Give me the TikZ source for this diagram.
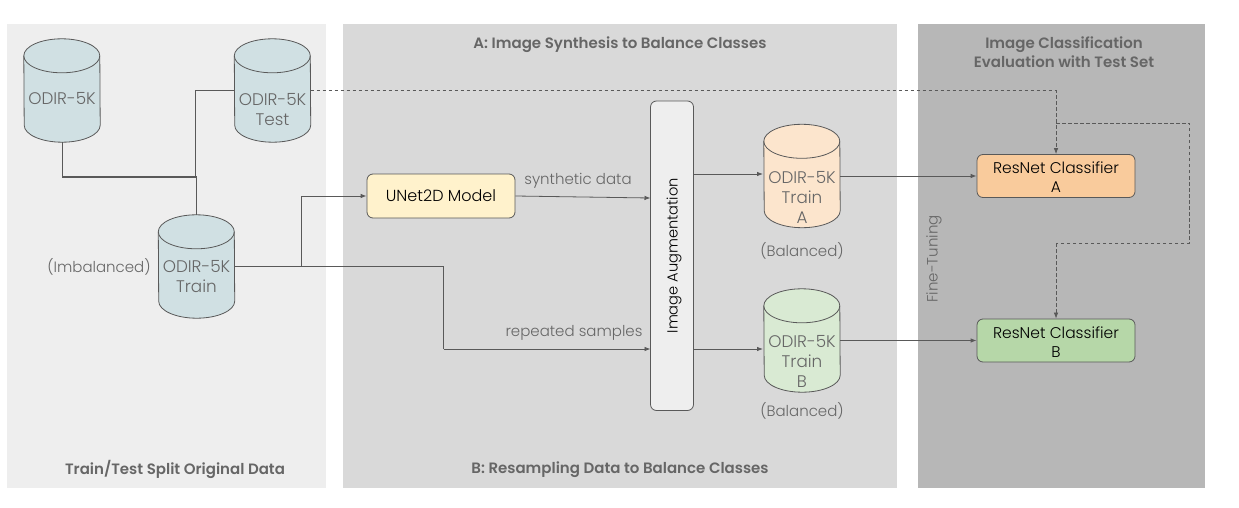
\documentclass[tikz,border=0pt]{standalone}
\usepackage{fontspec}
\setmainfont{Poppins Light}[BoldFont={Poppins SemiBold}]
\usetikzlibrary{arrows.meta}
\definecolor{ink}{HTML}{666666}
\definecolor{wire}{HTML}{595959}
\definecolor{pone}{HTML}{EEEEEE}
\definecolor{ptwo}{HTML}{D9D9D9}
\definecolor{pthree}{HTML}{B7B7B7}
\definecolor{dbblue}{HTML}{D0E0E3}
\definecolor{dborange}{HTML}{FCE5CD}
\definecolor{dbgreen}{HTML}{D9EAD3}
\definecolor{unetc}{HTML}{FFF2CC}
\definecolor{resa}{HTML}{F9CB9C}
\definecolor{resb}{HTML}{B6D7A8}
\newcommand{\dbcyl}[2]{%
 \path[draw=wire,line width=0.8pt,fill=#2]
   ([yshift=-17pt]#1.north west) arc[start angle=180,end angle=0,x radius=38pt,y radius=17pt]
   -- ([yshift=17pt]#1.south east) arc[start angle=0,end angle=-180,x radius=38pt,y radius=17pt]
   -- cycle;
 \path[draw=wire,line width=0.8pt]
   ([yshift=-17pt]#1.north west) arc[start angle=180,end angle=360,x radius=38pt,y radius=17pt];
}
\tikzset{
 x=1pt,y=1pt,
 panel/.style={fill=#1,draw=none,inner sep=0pt,anchor=south west},
 title/.style={font=\fontsize{15}{19}\selectfont\bfseries,text=ink,align=center,inner sep=0pt},
 lbl/.style={font=\fontsize{15}{20}\selectfont,text=ink,align=center,inner sep=0pt},
 dbl/.style={font=\fontsize{16.8}{20}\selectfont,text=ink,align=center,inner sep=0pt},
 db/.style={shape=rectangle,minimum width=76pt,minimum height=103pt,inner sep=0pt},
 box/.style={draw=wire,line width=0.8pt,rounded corners=6pt,fill=#1,inner sep=0pt,align=center,
   font=\fontsize{15.5}{19}\selectfont},
 wirel/.style={draw=wire,line width=0.8pt},
 arr/.style={wirel,-{Latex[length=6pt,width=4.5pt]}},
 dashline/.style={draw=wire,line width=0.7pt,dash pattern=on 3.5pt off 2.5pt},
 darr/.style={dashline,-{Latex[length=6pt,width=4.5pt]}},
}
\begin{document}
\begin{tikzpicture}
\useasboundingbox (0,0) rectangle (1239,507);
\node[panel=white,minimum width=1239pt,minimum height=507pt] (bg) at (0,0) {};
\node[panel=pone,minimum width=319pt,minimum height=464pt] (p1) at (7,19) {};
\node[panel=ptwo,minimum width=554pt,minimum height=464pt] (p2) at (343,19) {};
\node[panel=pthree,minimum width=287pt,minimum height=464pt] (p3) at (918,19) {};

\node[title] (t1) at (175,37.5) {Train/Test Split Original Data};
\node[title] (t2) at (620,462.5) {A: Image Synthesis to Balance Classes};
\node[title] (t3) at (620,37.5) {B: Resampling Data to Balance Classes};
\node[title] (t4) at (1064,454.5) {Image Classification\\Evaluation with Test Set};

\node[db] (orig) at (62,416.5) {};
\node[db] (test) at (272.5,416.5) {};
\node[db] (train) at (196.5,240.5) {};
\node[db] (tra) at (802,331) {};
\node[db] (trb) at (802,166.5) {};
\dbcyl{orig}{dbblue}
\dbcyl{test}{dbblue}
\dbcyl{train}{dbblue}
\dbcyl{tra}{dborange}
\dbcyl{trb}{dbgreen}

\node[dbl] (torig) at (62,408) {ODIR-5K};
\node[dbl] (ttest) at (272.5,397) {ODIR-5K\\Test};
\node[dbl] (ttrain) at (196.5,230) {ODIR-5K\\Train};
\node[dbl] (ttra) at (802,310) {ODIR-5K\\Train\\A};
\node[dbl] (ttrb) at (802,146) {ODIR-5K\\Train\\B};

\node[box=unetc,minimum width=148pt,minimum height=44pt,font=\fontsize{16}{19}\selectfont] (unet) at (441,311) {UNet2D Model};
\node[box=pone,minimum width=43pt,minimum height=309.5pt,font=\fontsize{14.6}{19}\selectfont] (aug) at (672,251.25) {\rotatebox{90}{\rule{0pt}{15pt}Image Augmentation}};
\node[box=resa,minimum width=158pt,minimum height=43pt] (ra) at (1056,331) {\rule{0pt}{14pt}ResNet Classifier\\A};
\node[box=resb,minimum width=158pt,minimum height=43pt] (rb) at (1056,166.5) {\rule{0pt}{14pt}ResNet Classifier\\B};

\node[lbl] (imb) at (99,240) {(Imbalanced)};
\node[lbl] (bala) at (802,256) {(Balanced)};
\node[lbl] (balb) at (802,96) {(Balanced)};
\node[lbl] (syn) at (578,326) {synthetic data};
\node[lbl] (rep) at (574,174) {repeated samples};
\node[lbl,rotate=90] (fine) at (934,248) {Fine-Tuning};

\coordinate (j1) at (196.5,330);
\coordinate (j2) at (301,240.5);
\coordinate (j3) at (1056,384);
\coordinate (c1) at (1189,384);
\coordinate (c2) at (1189,264);
\coordinate (c3) at (1056,264);
\coordinate (d1) at (443.5,240.5);
\coordinate (d2) at (443.5,158);
\coordinate (s1) at (650.5,309);
\coordinate (a1) at (693.5,333);
\coordinate (a2) at (763,333);
\coordinate (b1) at (693.5,158);
\coordinate (b2) at (763,158);
\coordinate (r1) at (650.5,158);

\draw[wirel] (orig.south) -- (orig.south |- j1);
\draw[wirel,line width=1.4pt] (orig.south |- j1) -- (j1);
\draw[wirel] (test.west) -| (195.5,330);
\draw[wirel] (train.north) -- (j1);
\draw[wirel] (train.east) -- (j2);
\draw[arr] (j2) |- (unet.west);
\draw[wirel] (j2) -- (d1) -- (d2);
\draw[arr] (d2) -- (r1);
\draw[arr] (unet.east) -- (s1);
\draw[arr] (a1) -- (a2);
\draw[arr] (b1) -- (b2);
\draw[arr] (tra.east) -- (ra.west);
\draw[arr] (trb.east) -- (rb.west);
\draw[darr] (test.east) -| (ra.north);
\draw[dashline] (j3) -- (c1) -- (c2) -- (c3);
\draw[darr] (c3) -- (rb.north);
\end{tikzpicture}
\end{document}
